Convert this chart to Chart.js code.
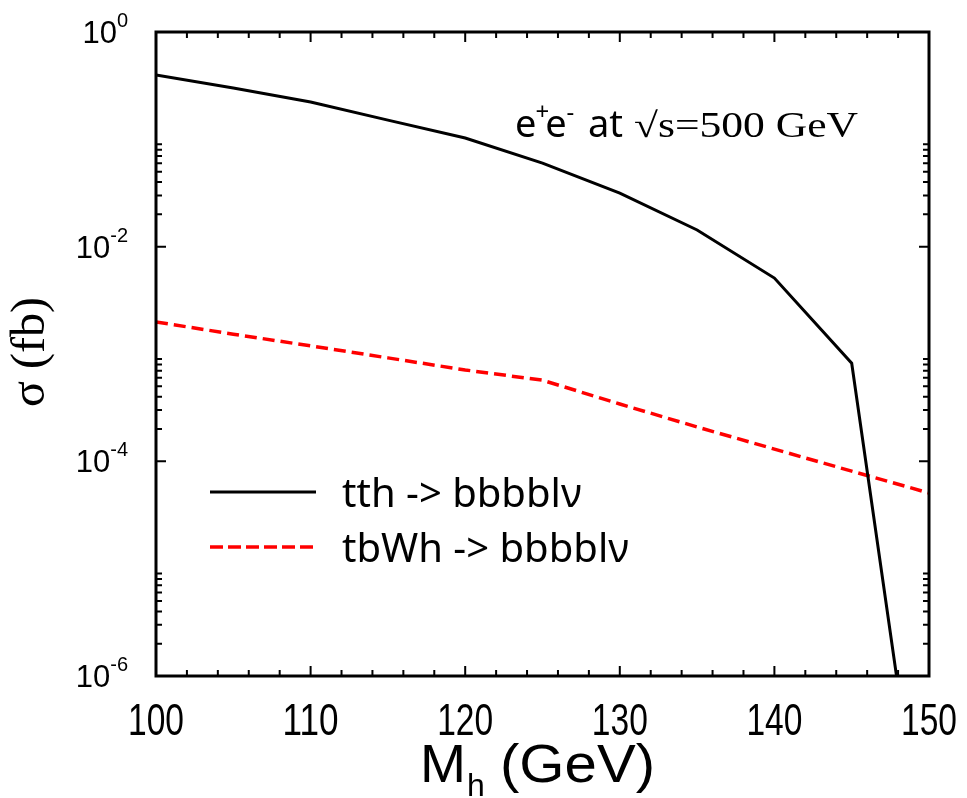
<!DOCTYPE html>
<html>
<head>
<meta charset="utf-8">
<script src="https://cdn.jsdelivr.net/npm/chart.js@4.4.0/dist/chart.umd.min.js"></script>
<style>
  html, body { margin: 0; padding: 0; background: #fff; }
  #wrap { width: 967px; height: 798px; }
</style>
</head>
<body>
<div id="wrap"><canvas id="sigmaChart"></canvas></div>
<script>
// tt~h -> bbbb l nu (solid black)
const massTth  = [100, 105, 110, 115, 120, 125, 130, 135, 140, 145, 147.9];
const sigmaTth = [0.397, 0.301, 0.223, 0.151, 0.103, 0.060, 0.0316, 0.0143, 0.0051, 8.2e-4, 1e-6];

// tbWh -> bbbb l nu (dashed red)
const massTbwh  = [100, 105, 110, 115, 120, 125, 130, 135, 140, 145, 150];
const sigmaTbwh = [1.99e-3, 1.53e-3, 1.19e-3, 9.2e-4, 7.1e-4, 5.7e-4, 3.42e-4, 2.09e-4, 1.30e-4, 8.1e-5, 5.07e-5];

// axis ticks
const xMajorTicks = [100, 110, 120, 130, 140, 150];
const yMajorExponents = [0, -2, -4, -6];

const legendLabels = ['tth -> bbbbl\u03bd', 'tbWh -> bbbbl\u03bd'];

const SANS = '"Liberation Sans", Arial, sans-serif';
const WIDE = '"Noto Sans", "Open Sans", sans-serif';
const SERIF = '"Liberation Serif", "Times New Roman", serif';

const toPoints = (xs, ys) => xs.map((x, i) => ({ x: x, y: ys[i] }));

// text squeezed/stretched horizontally to a given width
function fitText(ctx, text, x, y, width) {
    const w = ctx.measureText(text).width;
    ctx.save();
    ctx.translate(x, y);
    ctx.scale(width / w, 1);
    ctx.fillText(text, 0, 0);
    ctx.restore();
}

// draws the frame, inward ticks, labels and annotations
const decorPlugin = {
    id: 'decor',
    afterDraw(chart) {
        const ctx = chart.ctx;
        const area = chart.chartArea;
        const xs = chart.scales.x;
        const ys = chart.scales.y;

        ctx.save();
        ctx.strokeStyle = '#000';
        ctx.fillStyle = '#000';

        // x ticks (every 2 GeV, major every 10)
        ctx.lineWidth = 2;
        for (let m = 100; m <= 150; m += 2) {
            const px = xs.getPixelForValue(m);
            const len = (m % 10 === 0) ? 10 : 6;
            ctx.beginPath();
            ctx.moveTo(px, area.bottom); ctx.lineTo(px, area.bottom - len);
            ctx.moveTo(px, area.top); ctx.lineTo(px, area.top + len);
            ctx.stroke();
        }

        // y ticks: majors every two decades, minors in the lower decade
        yMajorExponents.forEach(e => {
            const py = ys.getPixelForValue(Math.pow(10, e));
            ctx.beginPath();
            ctx.moveTo(area.left, py); ctx.lineTo(area.left + 10, py);
            ctx.moveTo(area.right, py); ctx.lineTo(area.right - 10, py);
            ctx.stroke();
            if (e > -6) {
                const base = Math.pow(10, e - 2);
                for (let k = 2; k <= 9; k++) {
                    const pm = ys.getPixelForValue(base * k);
                    ctx.beginPath();
                    ctx.moveTo(area.left, pm); ctx.lineTo(area.left + 6, pm);
                    ctx.moveTo(area.right, pm); ctx.lineTo(area.right - 6, pm);
                    ctx.stroke();
                }
            }
        });

        // frame
        ctx.lineWidth = 3;
        ctx.strokeRect(area.left, area.top, area.right - area.left, area.bottom - area.top);

        // x tick labels (narrow, tall digits)
        ctx.font = '44px ' + SANS;
        ctx.textAlign = 'left';
        ctx.textBaseline = 'alphabetic';
        xMajorTicks.forEach(m => {
            fitText(ctx, String(m), xs.getPixelForValue(m) - 28, 735, 56);
        });

        // y tick labels 10^e
        yMajorExponents.forEach(e => {
            const py = ys.getPixelForValue(Math.pow(10, e));
            ctx.font = '20px ' + SANS;
            const sup = String(e);
            const sw = ctx.measureText(sup).width;
            ctx.textAlign = 'left';
            ctx.fillText(sup, 128 - sw, py - 5);
            ctx.font = '31px ' + SANS;
            ctx.textAlign = 'right';
            ctx.fillText('10', 128 - sw, py + 11);
        });

        // x title M_h (GeV)
        ctx.textAlign = 'left';
        ctx.font = '54px ' + SANS;
        fitText(ctx, 'M', 420, 782, 46);
        ctx.font = '32px ' + SANS;
        ctx.fillText('h', 467, 796);
        ctx.font = '54px ' + SANS;
        fitText(ctx, '(GeV)', 500, 782, 155);

        // y title sigma (fb)
        ctx.save();
        ctx.translate(44, 352);
        ctx.rotate(-Math.PI / 2);
        ctx.textAlign = 'center';
        ctx.font = '48px ' + SERIF;
        ctx.fillText('\u03c3 (fb)', 0, 0);
        ctx.restore();

        // legend
        ctx.lineWidth = 3;
        ctx.beginPath();
        ctx.moveTo(210, 492); ctx.lineTo(316, 492);
        ctx.stroke();
        ctx.strokeStyle = '#ff0000';
        ctx.lineWidth = 3.5;
        ctx.setLineDash([13, 5]);
        ctx.beginPath();
        ctx.moveTo(210, 547); ctx.lineTo(316, 547);
        ctx.stroke();
        ctx.setLineDash([]);
        ctx.font = '40px ' + WIDE;
        ctx.textAlign = 'left';
        ctx.fillText(legendLabels[0], 342, 507);
        ctx.fillText(legendLabels[1], 342, 562);

        // annotation e+e- at sqrt(s)=500 GeV
        let ax = 515;
        const ab = 137;
        ctx.font = '38px ' + WIDE;
        ctx.fillText('e', ax, ab); ax += ctx.measureText('e').width;
        ctx.font = '24px ' + WIDE;
        ctx.fillText('+', ax - 1, ab - 17); ax += ctx.measureText('+').width - 5;
        ctx.font = '38px ' + WIDE;
        ctx.fillText('e', ax, ab); ax += ctx.measureText('e').width;
        ctx.font = '24px ' + WIDE;
        ctx.fillText('-', ax, ab - 17);
        ctx.font = '38px ' + WIDE;
        ctx.fillText('at', 588, ab);
        ctx.font = '35px ' + SERIF;
        fitText(ctx, '\u221as=500 GeV', 634, ab, 224);

        ctx.restore();
    }
};

const ctx = document.getElementById('sigmaChart');
new Chart(ctx, {
    type: 'line',
    data: {
        datasets: [
            {
                label: legendLabels[0],
                data: toPoints(massTth, sigmaTth),
                borderColor: '#000000',
                borderWidth: 3,
                pointRadius: 0,
                tension: 0,
                fill: false
            },
            {
                label: legendLabels[1],
                data: toPoints(massTbwh, sigmaTbwh),
                borderColor: '#ff0000',
                borderWidth: 3.5,
                borderDash: [12, 6],
                pointRadius: 0,
                tension: 0,
                fill: false
            }
        ]
    },
    options: {
        responsive: true,
        maintainAspectRatio: false,
        animation: false,
        layout: { padding: { top: 32, right: 38, left: 0, bottom: 0 } },
        plugins: {
            legend: { display: false },
            tooltip: { enabled: false }
        },
        scales: {
            x: {
                type: 'linear',
                min: 100,
                max: 150,
                grid: { display: false },
                border: { display: false },
                ticks: { display: false },
                afterFit(scale) { scale.height = 122; }
            },
            y: {
                type: 'logarithmic',
                min: 1e-6,
                max: 1,
                grid: { display: false },
                border: { display: false },
                ticks: { display: false },
                afterFit(scale) { scale.width = 156; }
            }
        }
    },
    plugins: [decorPlugin]
});
</script>
</body>
</html>
